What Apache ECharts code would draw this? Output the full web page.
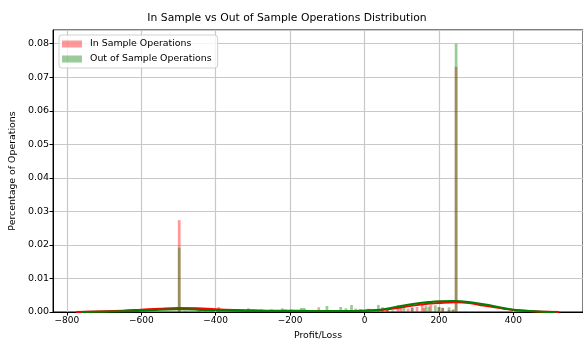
<!DOCTYPE html>
<html>
<head>
<meta charset="utf-8">
<script src="https://cdn.jsdelivr.net/npm/echarts@6/dist/echarts.min.js"></script>
<style>
  html, body { margin: 0; padding: 0; background: #fff; }
  #chart { width: 583px; height: 345px; }
</style>
</head>
<body>
<div id="chart"></div>
<script>
// Histogram bin width (Profit/Loss units)
const BIN_W = 7.4;

// In-sample histogram: [bin centre, share of operations]
const inSampleBins = [
  [-498, 0.0274], [-392, 0.0015], [-328, 0.0003], [-277, 0.0008], [-250, 0.0008],
  [-213, 0.0008], [-160, 0.0008], [-152, 0.0006], [-123, 0.0014], [-85, 0.0005],
  [-24, 0.0010], [-11, 0.0009], [10, 0.0010], [48, 0.0014], [61, 0.0012],
  [90, 0.0021], [98, 0.0012], [117, 0.0010], [128, 0.0014], [141, 0.0015],
  [155, 0.0024], [160, 0.0012], [178, 0.0022], [200, 0.0014], [210, 0.0013],
  [227, 0.0006], [238, 0.0008], [246, 0.0731]
];

// Out-of-sample histogram: [bin centre, share of operations]
const outSampleBins = [
  [-498, 0.0192], [-482, 0.0002], [-445, 0.0003], [-427, 0.0002], [-312, 0.0011],
  [-290, 0.0006], [-277, 0.0003], [-221, 0.0011], [-210, 0.0006], [-197, 0.0008],
  [-170, 0.0012], [-163, 0.0012], [-101, 0.0018], [-64, 0.0015], [-50, 0.0011],
  [-35, 0.0021], [-3, 0.0004], [37, 0.0021], [61, 0.0011], [76, 0.0005],
  [106, 0.0015], [128, 0.0012], [165, 0.0019], [173, 0.0016], [190, 0.0020],
  [200, 0.0015], [210, 0.0012], [227, 0.0014], [238, 0.0006], [246, 0.0800]
];

// Kernel density estimates: [profit/loss, density]
const inSampleKde = [
  [-775, 0], [-700, 0.0002], [-650, 0.0004], [-600, 0.0007], [-550, 0.0010],
  [-500, 0.0012], [-450, 0.0011], [-400, 0.0008], [-350, 0.0006], [-300, 0.0005],
  [-250, 0.0004], [-200, 0.0004], [-150, 0.0003], [-100, 0.0003], [-50, 0.0003],
  [0, 0.0004], [43, 0.0006], [88, 0.0012], [130, 0.0019], [176, 0.0025],
  [200, 0.0027], [245, 0.0029], [280, 0.0027], [320, 0.0019], [373, 0.0010],
  [400, 0.0006], [450, 0.0002], [490, 0.00005], [523, 0]
];
const outSampleKde = [
  [-762, 0], [-700, 0.0001], [-650, 0.0002], [-600, 0.0004], [-550, 0.0007],
  [-500, 0.0008], [-450, 0.0007], [-400, 0.0005], [-350, 0.0004], [-300, 0.0003],
  [-250, 0.0003], [-200, 0.0003], [-150, 0.0003], [-100, 0.0003], [-50, 0.0003],
  [0, 0.0004], [43, 0.0007], [88, 0.0016], [130, 0.0024], [176, 0.0030],
  [200, 0.0032], [240, 0.0033], [280, 0.0030], [320, 0.0023], [373, 0.0012],
  [400, 0.0007], [443, 0.0003], [480, 0.0001], [515, 0]
];

// Axis ticks
const xTicks = [-800, -600, -400, -200, 0, 200, 400];
const X_MIN = -837, X_MAX = 587;
const Y_MAX = 0.0841;

const FONT = 'DejaVu Sans';

function histSeries(name, bins, fill) {
  return {
    type: 'custom',
    name: name,
    data: bins,
    encode: { x: 0, y: 1 },
    itemStyle: { color: fill },
    renderItem: function (params, api) {
      const c = api.value(0), h = api.value(1);
      const p0 = api.coord([c - BIN_W / 2, h]);
      const p1 = api.coord([c + BIN_W / 2, 0]);
      return {
        type: 'rect',
        shape: { x: p0[0], y: p0[1], width: p1[0] - p0[0], height: p1[1] - p0[1] },
        style: { fill: fill }
      };
    },
    z: 2
  };
}

function kdeSeries(name, pts, color) {
  return {
    type: 'line',
    name: name,
    data: pts,
    smooth: 0.4,
    showSymbol: false,
    lineStyle: { color: color, width: 2 },
    itemStyle: { color: color },
    z: 3
  };
}

const chart = echarts.init(document.getElementById('chart'), null, { renderer: 'canvas' });

chart.setOption({
  animation: false,
  backgroundColor: '#ffffff',
  title: {
    text: 'In Sample vs Out of Sample Operations Distribution',
    left: 287,
    top: 13,
    padding: 0,
    textAlign: 'center',
    textStyle: { fontFamily: FONT, fontSize: 10.8, fontWeight: 'normal', color: '#000' }
  },
  legend: {
    data: ['In Sample Operations', 'Out of Sample Operations'],
    orient: 'vertical',
    left: 59,
    top: 35,
    padding: [3, 6, 3, 3],
    itemGap: 3,
    itemWidth: 20,
    itemHeight: 7,
    icon: 'rect',
    backgroundColor: 'rgba(255,255,255,0.8)',
    borderColor: '#d0d0d0',
    borderWidth: 1,
    borderRadius: 3,
    textStyle: { fontFamily: FONT, fontSize: 9.4, color: '#000', lineHeight: 12, padding: [0, 0, 0, 3] }
  },
  grid: {
    left: 53, right: -4, top: 30, bottom: 30,
    show: true,
    borderColor: '#000',
    borderWidth: 1,
    backgroundColor: 'transparent'
  },
  xAxis: {
    type: 'value',
    min: X_MIN,
    max: X_MAX,
    name: 'Profit/Loss',
    nameLocation: 'middle',
    nameGap: 19,
    nameTextStyle: { fontFamily: FONT, fontSize: 9.4, color: '#000' },
    axisLine: { show: true, onZero: false, lineStyle: { color: '#000', width: 1 } },
    axisTick: { show: true, customValues: xTicks, length: 3.5, lineStyle: { color: '#000' } },
    axisLabel: {
      customValues: xTicks,
      fontFamily: FONT, fontSize: 9, color: '#000', margin: 4,
      formatter: v => (v < 0 ? '\u2212' + Math.abs(v) : String(v))
    },
    splitLine: { show: true, lineStyle: { color: '#c8c8c8', width: 1.2 } }
  },
  yAxis: {
    type: 'value',
    min: 0,
    max: Y_MAX,
    interval: 0.01,
    name: 'Percentage of Operations',
    nameLocation: 'middle',
    nameGap: 36,
    nameTextStyle: { fontFamily: FONT, fontSize: 9.4, color: '#000' },
    axisLine: { show: true, onZero: false, lineStyle: { color: '#000', width: 1 } },
    axisTick: { show: true, length: 3.5, lineStyle: { color: '#000' } },
    axisLabel: {
      fontFamily: FONT, fontSize: 9.5, color: '#000', margin: 4,
      showMaxLabel: false,
      formatter: v => v.toFixed(2)
    },
    splitLine: { show: true, lineStyle: { color: '#c8c8c8', width: 1.2 } }
  },
  series: [
    histSeries('In Sample Operations', inSampleBins, 'rgba(255,0,0,0.4)'),
    histSeries('Out of Sample Operations', outSampleBins, 'rgba(0,128,0,0.4)'),
    kdeSeries('In Sample KDE', inSampleKde, '#ff0000'),
    kdeSeries('Out of Sample KDE', outSampleKde, '#008000')
  ]
});
</script>
</body>
</html>
